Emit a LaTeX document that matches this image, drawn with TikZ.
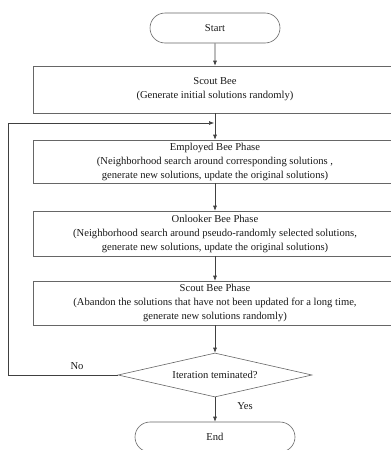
\documentclass[tikz,border=0pt]{standalone}
\usepackage{fontspec}
\setmainfont{Liberation Serif}
\usetikzlibrary{shapes.misc,shapes.geometric,arrows.meta}
\begin{document}
\begin{tikzpicture}[x=1pt,y=-1pt,
  every node/.style={font=\fontsize{10.6}{14}\selectfont, text=black!90},
  procbox/.style={draw=black!60, line width=0.6pt, minimum width=364pt, inner sep=0pt, align=center},
  term/.style={draw=black!60, line width=0.6pt, rounded rectangle, minimum height=30pt, inner sep=0pt},
  decision/.style={draw=black!60, line width=0.6pt, diamond, shape aspect=4.4, minimum width=194pt, minimum height=44pt, inner sep=0pt},
  flow/.style={draw=black!75, line width=0.6pt, -{Latex[length=5pt,width=4pt]}},
  loopline/.style={draw=black!75, line width=0.6pt}]
\useasboundingbox (0,0) rectangle (391,450);
\clip (0,0) rectangle (391,450);
\node[term, minimum width=130pt] (start) at (215,28) {Start};
\node[procbox, minimum height=47pt] (scout) at (215,89.5) {Scout Bee\\(Generate initial solutions randomly)};
\node[procbox, minimum height=43pt] (emp) at (215,161.5) {Employed Bee Phase\\(Neighborhood search around corresponding solutions ,\\generate new solutions, update the original solutions)};
\node[procbox, minimum height=45pt] (onl) at (215,233.5) {Onlooker Bee Phase\\(Neighborhood search around pseudo-randomly selected solutions,\\generate new solutions, update the original solutions)};
\node[procbox, minimum height=44pt] (sph) at (215,303) {Scout Bee Phase\\(Abandon the solutions that have not been updated for a long time,\\generate new solutions randomly)};
\node[decision] (dec) at (215,375) {Iteration teminated?};
\node[term, minimum width=160pt] (end) at (215,437) {End};
\coordinate (join) at (215,123);
\coordinate (lb) at (8,375);
\coordinate (lt) at (8,123);
\draw[flow] (start) -- (scout);
\draw[flow] (scout) -- (emp);
\draw[flow] (emp) -- (onl);
\draw[flow] (onl) -- (sph);
\draw[flow] (sph) -- (dec);
\draw[flow] (dec) -- (end);
\draw[loopline] (dec.west) -- (lb) -- (lt);
\draw[flow] (lt) -- ([xshift=-1pt]join);
\node (no) at (77,366) {No};
\node (yes) at (245,406) {Yes};
\end{tikzpicture}
\end{document}
